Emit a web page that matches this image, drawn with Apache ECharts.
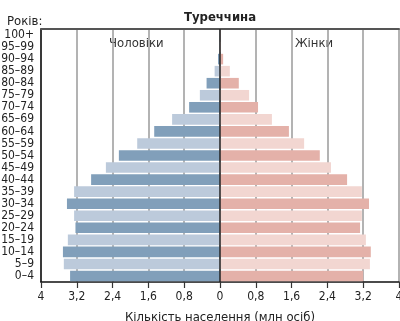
<!DOCTYPE html>
<html><head><meta charset="utf-8">
<script src="https://cdn.jsdelivr.net/npm/echarts@6/dist/echarts.min.js"></script>
<style>html,body{margin:0;padding:0;background:#fff}#c{width:400px;height:321px}</style>
</head><body><div id="c"></div>
<script>
var ageGroups = ['0–4','5–9','10–14','15–19','20–24','25–29','30–34','35–39','40–44','45–49','50–54','55–59','60–64','65–69','70–74','75–79','80–84','85–89','90–94','95–99','100+'];
var maleValues = [3.35,3.49,3.51,3.40,3.23,3.26,3.42,3.26,2.88,2.55,2.26,1.85,1.47,1.07,0.69,0.45,0.30,0.12,0.045,0.01,0.004];
var femaleValues = [3.20,3.35,3.37,3.26,3.13,3.17,3.33,3.17,2.84,2.48,2.23,1.88,1.54,1.16,0.85,0.65,0.42,0.22,0.07,0.02,0.008];
var xTicks = [-4,-3.2,-2.4,-1.6,-0.8,0,0.8,1.6,2.4,3.2,4];

var FONT = "'Liberation Sans Narrow','DejaVu Sans Condensed',sans-serif";
var maleDark = '#819fba', maleLight = '#bccadb';
var femDark = '#e4b1a9', femLight = '#f2d6d1';

function fmt(v){
  var a = Math.round(Math.abs(v)*10)/10;
  return String(a).replace('.', ',');
}

var chart = echarts.init(document.getElementById('c'), null, {renderer:'canvas'});
chart.setOption({
  animation:false,
  textStyle:{fontFamily:FONT},
  graphic:[
    {type:'text', x:220, y:11, style:{text:'Туреччина', font:'bold 13px '+FONT, fill:'#222', align:'center'}},
    {type:'text', x:7, y:15, style:{text:'Років:', font:'13px '+FONT, fill:'#222'}},
    {type:'text', x:109, y:37, style:{text:'Чоловіки', font:'13px '+FONT, fill:'#333'}},
    {type:'text', x:295, y:37, style:{text:'Жінки', font:'13px '+FONT, fill:'#333'}}
  ],
  grid:{left:41, right:1, top:29, bottom:39, containLabel:false, outerBoundsMode:'none'},
  xAxis:[{
    type:'value', min:-4, max:4, interval:0.8, position:'bottom',
    axisLine:{show:true, lineStyle:{color:'#111', width:1.5}},
    axisTick:{show:true, length:6, lineStyle:{color:'#333', width:1.2}},
    axisLabel:{formatter:fmt, color:'#222', fontSize:12, fontFamily:FONT, margin:9},
    splitLine:{show:true, lineStyle:{color:'#9a9a9a', width:1.5}},
    name:'Кількість населення (млн осіб)', nameLocation:'middle', nameGap:29,
    nameTextStyle:{fontFamily:FONT, fontSize:13, color:'#222'}
  },{
    type:'value', min:-4, max:4, interval:0.8, position:'top',
    axisLine:{show:true, lineStyle:{color:'#555', width:2}},
    axisTick:{show:false}, axisLabel:{show:false}, splitLine:{show:false}
  }],
  yAxis:{
    type:'category', data:ageGroups,
    axisLine:{show:true, onZero:false, lineStyle:{color:'#111', width:1.5}},
    axisTick:{show:false},
    axisLabel:{color:'#222', fontSize:12, fontFamily:FONT, margin:7, interval:0},
    splitLine:{show:false}
  },
  series:[{
    type:'bar', stack:'p', barCategoryGap:'12%',
    data: maleValues.map(function(v,i){return {value:-v, itemStyle:{color: i%2===0?maleDark:maleLight}};}),
    markLine:{silent:true, symbol:'none', label:{show:false}, lineStyle:{color:'#222', width:1.5, type:'solid'}, data:[{xAxis:0}]}
  },{
    type:'bar', stack:'p', barCategoryGap:'12%',
    data: femaleValues.map(function(v,i){return {value:v, itemStyle:{color: i%2===0?femDark:femLight}};})
  }]
});
</script></body></html>
